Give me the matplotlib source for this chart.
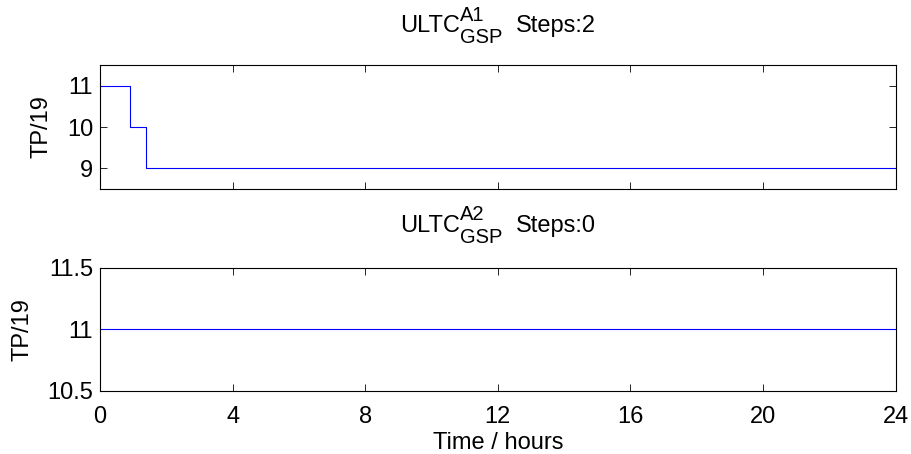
import numpy as np
import matplotlib
matplotlib.use('Agg')
import matplotlib.pyplot as plt
from matplotlib.offsetbox import TextArea, HPacker, VPacker, AnchoredOffsetbox
from matplotlib.transforms import ScaledTranslation

plt.rcParams['font.family'] = ['Liberation Sans', 'DejaVu Sans']
plt.rcParams['font.size'] = 17

# tap position change points (hours) and tap values for each transformer
a1_times = [0, 0.9, 1.4, 24]
a1_taps = [11, 10, 9, 9]
a2_times = [0, 24]
a2_taps = [11, 11]

names = ['ULTC', 'ULTC']
supers = ['A1', 'A2']
subs = ['GSP', 'GSP']
steps = ['Steps:2', 'Steps:0']
xticks = [0, 4, 8, 12, 16, 20, 24]


def add_title(ax, name, sup, sub, step, rise):
    # title with full-size super/subscripts stacked after the name
    scripts = VPacker(children=[TextArea(sup, textprops=dict(fontsize=14.5)),
                                TextArea(sub, textprops=dict(fontsize=14.5))],
                      align='left', pad=0, sep=2.5)
    head = HPacker(children=[TextArea(name, textprops=dict(fontsize=17)), scripts],
                   align='center', pad=0, sep=0.5)
    box = HPacker(children=[head, TextArea(step, textprops=dict(fontsize=17))],
                  align='center', pad=0, sep=9.5)
    trans = ax.transAxes + ScaledTranslation(0, rise / 100, ax.figure.dpi_scale_trans)
    anch = AnchoredOffsetbox(loc='lower center', child=box, pad=0, borderpad=0,
                             frameon=False, bbox_to_anchor=(0.5, 1.0),
                             bbox_transform=trans)
    ax.add_artist(anch)


fig = plt.figure(figsize=(9.12, 4.54), dpi=100)
ax1 = fig.add_axes([0.1096, 0.5837, 0.8725, 0.2731])
ax2 = fig.add_axes([0.1096, 0.1388, 0.8725, 0.2710])

ax1.step(a1_times, a1_taps, where='post', color='#0000ff', lw=0.8)
ax1.set_ylim(8.5, 11.5)
ax1.set_yticks([9, 10, 11])
ax1.set_yticklabels(['9', '10', '11'])

ax2.step(a2_times, a2_taps, where='post', color='#0000ff', lw=0.8)
ax2.set_ylim(10.5, 11.5)
ax2.set_yticks([10.5, 11, 11.5])
ax2.set_yticklabels(['10.5', '11', '11.5'])

for i, (ax, rise) in enumerate(zip([ax1, ax2], [18, 21])):
    ax.set_xlim(0, 24)
    ax.set_xticks(xticks)
    ax.set_ylabel('TP/19', labelpad=10)
    add_title(ax, names[i], supers[i], subs[i], steps[i], rise)
    ax.tick_params(direction='in', length=5, width=0.6, top=True, right=True, pad=5)
    ax.tick_params(axis='x', pad=11)
    for s in ax.spines.values():
        s.set_linewidth(0.8)

ax2.set_xlabel('Time / hours', labelpad=3)
ax1.tick_params(labelbottom=False)

plt.savefig('out.png', dpi=100)
plt.close('all')
